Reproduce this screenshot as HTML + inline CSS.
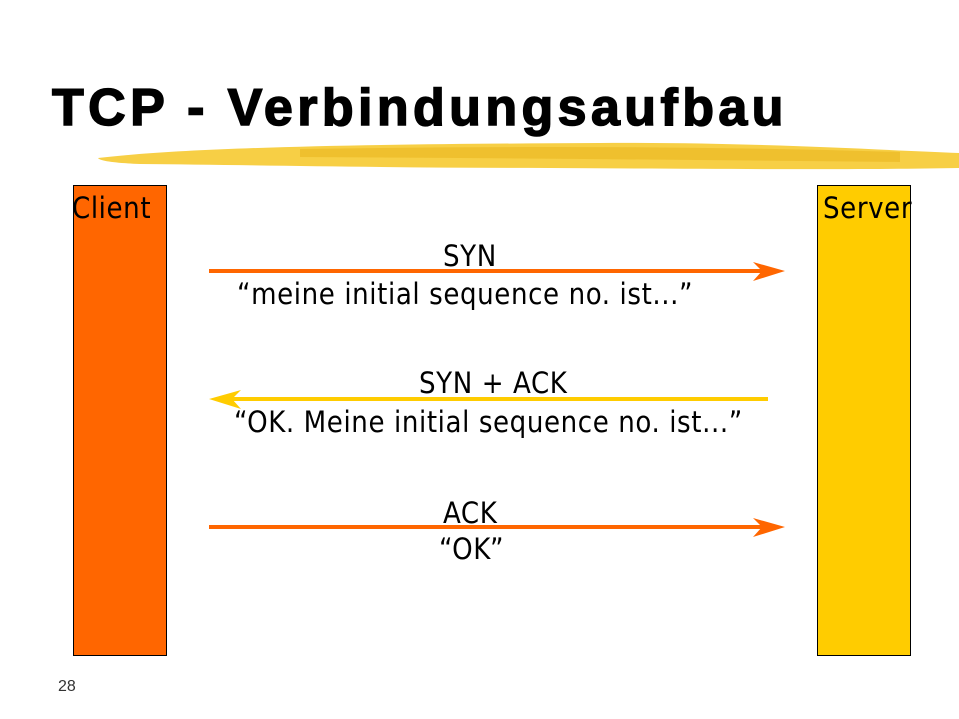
<!DOCTYPE html>
<html><head><meta charset="utf-8"><style>
body{margin:0;width:959px;height:719px;background:#fff;position:relative;overflow:hidden;font-family:"DejaVu Sans Condensed","DejaVu Sans","Liberation Sans",sans-serif}
.t{position:absolute;white-space:nowrap;color:#000;font-size:29px;letter-spacing:0.6px;line-height:34px}
.box{position:absolute;border:1px solid #000;box-sizing:border-box}
</style></head><body>
<div class="t" style="left:52px;top:78px;font:bold 52px 'Liberation Sans',sans-serif;letter-spacing:4.4px;-webkit-text-stroke:1.5px #000;line-height:60px">TCP - Verbindungsaufbau</div>
<svg style="position:absolute;left:0;top:0" width="959" height="719">
<path d="M98,158 C200,146 400,144 600,143 C750,142 880,150 959,153 L959,168 C850,170 700,169 550,168 C400,168 250,165 140,164 C115,163 100,161 98,158Z" fill="#f7cf45"/>
<path d="M300,149 C500,146 700,146 900,152 L900,162 C700,160 500,158 300,157Z" fill="#eab520" opacity=".6"/>
<line x1="209" y1="271" x2="765" y2="271" stroke="#ff6600" stroke-width="4"/>
<polygon points="785,271 753,262 762,271 753,281" fill="#ff6600"/>
<line x1="228" y1="399" x2="768" y2="399" stroke="#ffcc00" stroke-width="4"/>
<polygon points="209,399 241,390 232,399 241,409" fill="#ffcc00"/>
<line x1="209" y1="527" x2="765" y2="527" stroke="#ff6600" stroke-width="4"/>
<polygon points="785,527 753,518 762,527 753,537" fill="#ff6600"/>
</svg>
<div class="box" style="left:73px;top:185px;width:94px;height:471px;background:#ff6600"></div>
<div class="box" style="left:817px;top:185px;width:94px;height:471px;background:#ffcc00"></div>
<div class="t" style="left:72px;top:191px">Client</div>
<div class="t" style="left:823px;top:191px">Server</div>
<div class="t" style="left:443px;top:239px">SYN</div>
<div class="t" style="left:237px;top:277px">“meine initial sequence no. ist...”</div>
<div class="t" style="left:419px;top:366px">SYN + ACK</div>
<div class="t" style="left:234px;top:405px">“OK. Meine initial sequence no. ist...”</div>
<div class="t" style="left:443px;top:496px">ACK</div>
<div class="t" style="left:439px;top:532px">“OK”</div>
<div class="t" style="left:58px;top:678px;font:16px 'Liberation Sans',sans-serif;color:#333;letter-spacing:0">28</div>
</body></html>
